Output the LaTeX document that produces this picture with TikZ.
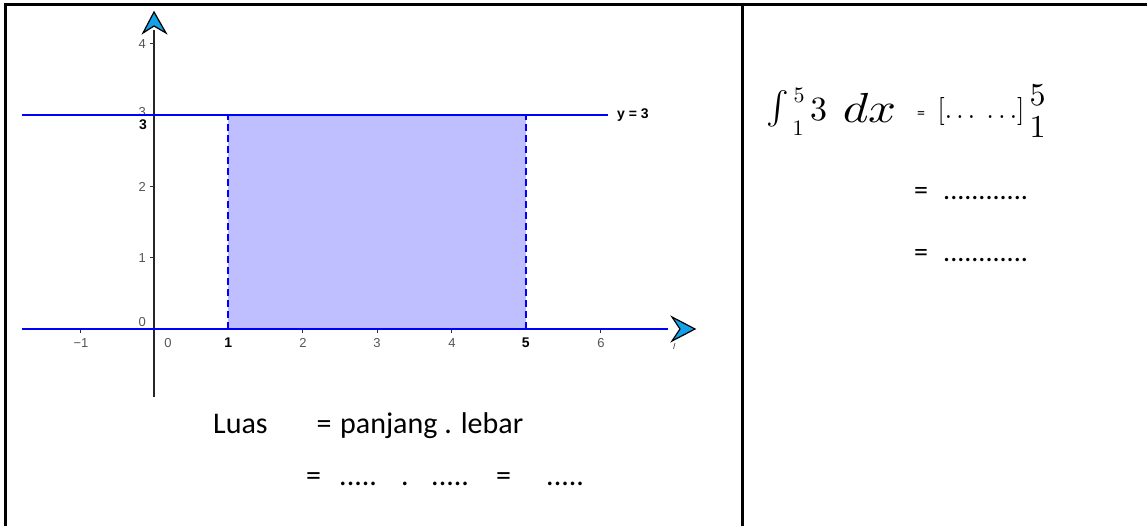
\documentclass[tikz,border=0pt]{standalone}
\usepackage{graphicx}
\usepackage[no-math]{fontspec}
\setmainfont{Carlito}
\newfontfamily\ggb{Liberation Sans}
\definecolor{ggblue}{RGB}{0,0,255}
\definecolor{fillv}{RGB}{191,191,255}
\definecolor{arrowc}{RGB}{20,160,230}
\definecolor{tickgray}{RGB}{85,85,85}
\begin{document}
\begin{tikzpicture}[x=1pt,y=-1pt,
  frame/.style={line width=3pt,black},
  blueline/.style={ggblue,line width=2pt},
  dashline/.style={ggblue,line width=2pt,dash pattern=on 7pt off 4pt},
  axisline/.style={black!85,line width=1.3pt},
  tickline/.style={black!80,line width=1pt},
  arrowhead/.style={fill=arrowc,draw=black,line width=1.2pt,line join=miter},
  ticklab/.style={font=\ggb\fontsize{13}{13}\selectfont,text=tickgray,inner sep=0pt},
  boldlab/.style={font=\ggb\bfseries\fontsize{14}{14}\selectfont,text=black,inner sep=0pt},
  bigtext/.style={font=\fontsize{30}{30}\selectfont,inner sep=0pt,anchor=base west},
  righttext/.style={font=\fontsize{28}{28}\selectfont,inner sep=0pt,anchor=base west},
  mathlab/.style={inner sep=0pt}]
\useasboundingbox (0,0) rectangle (1147,526);
% shaded region
\fill[fillv] (228.3,115.5) rectangle (525.7,329);
% y axis
\coordinate (ybot) at (154,397);
\coordinate (ytop) at (154,30);
\draw[axisline] (ybot) -- (ytop);
\foreach \yy in {44,187,258} \draw[tickline] (150,\yy) -- (154,\yy);
\foreach \xx in {80,302.7,377,451.7,600} \draw[tickline] (\xx,329) -- (\xx,333);
% dashed verticals
\coordinate (a1) at (228.3,115.5); \coordinate (a0) at (228.3,329);
\coordinate (b1) at (525.7,115.5); \coordinate (b0) at (525.7,329);
\draw[dashline] (a0) -- (a1);
\draw[dashline] (b0) -- (b1);
% labels behind line
\node[ticklab,anchor=east] (ly3g) at (146,112) {3};
% horizontal lines
\coordinate (xl) at (22,329); \coordinate (xr) at (668,329);
\draw[blueline] (xl) -- (xr);
\coordinate (hl) at (22,115.5); \coordinate (hr) at (607.7,115.5);
\draw[blueline] (hl) -- (hr);
\node[boldlab,anchor=west] (ylab) at (617,115.5) {y = 3};
% arrowheads
\draw[arrowhead] (154,12) -- (166,33) -- (154,26) -- (143,33) -- cycle;
\draw[arrowhead] (695,329) -- (672,341) -- (680,329) -- (672,317) -- cycle;
\draw[tickgray,line width=0.8pt] (673.5,349) -- (675,343);
% x tick labels
\node[ticklab] (xm1) at (81,343) {\textminus 1};
\node[ticklab] (x0) at (168,343) {0};
\node[boldlab] (x1) at (228.3,343) {1};
\node[ticklab] (x2) at (303,343) {2};
\node[ticklab] (x3) at (377,343) {3};
\node[ticklab] (x4) at (452,343) {4};
\node[boldlab] (x5) at (525.7,343) {5};
\node[ticklab] (x6) at (601,343) {6};
% y tick labels
\node[ticklab,anchor=east] (y4) at (146,44) {4};
\node[ticklab,anchor=east] (y2) at (146,187) {2};
\node[ticklab,anchor=east] (y1) at (146,258) {1};
\node[ticklab,anchor=east] (y0) at (146,322) {0};
\node[boldlab,anchor=east] (y3) at (147,125) {3};
% bottom text
\node[bigtext] (luas) at (213,433) {Luas};
\node[bigtext] (eq1) at (316.5,433) {=};
\node[bigtext] (pl) at (340,433) {panjang . lebar};
\node[bigtext] (eq2) at (306,485) {=};
\node[bigtext] (d1) at (339,485) {.....};
\node[bigtext] (d2) at (401,485) {.};
\node[bigtext] (d3) at (431,485) {.....};
\node[bigtext] (eq3) at (496,485) {=};
\node[bigtext] (d4) at (546,485) {.....};
% right panel math
\node[mathlab] (intg) at (778,109) {\scalebox{3.4}[3.3]{$\int$}};
\node[mathlab] (sup5) at (799,95) {\scalebox{2.2}{$5$}};
\node[mathlab] (sub1) at (798,128) {\scalebox{2.2}{$1$}};
\node[mathlab] (three) at (818.5,110) {\scalebox{3.4}{$3$}};
\node[mathlab] (dx) at (869.5,108) {\scalebox{4.9}[4.2]{$dx$}};
\node[mathlab,font=\fontsize{16}{16}\selectfont] (eqa) at (921,115) {=};
\node[mathlab] (brk) at (981,112) {\scalebox{2.6}[2.8]{$[\dots\;\dots]$}};
\node[mathlab] (up5) at (1037.5,95) {\scalebox{3.2}{$5$}};
\node[mathlab] (lo1) at (1037.5,127) {\scalebox{3.2}{$1$}};
\node[righttext] (eqb) at (914,200) {=};
\node[righttext] (dotb) at (943,200) {............};
\node[righttext] (eqc) at (914,262) {=};
\node[righttext] (dotc) at (943,262) {............};
% table frame
\coordinate (tl) at (5,5); \coordinate (tr) at (1147,5);
\coordinate (bl) at (5,526); \coordinate (mt) at (742.5,5); \coordinate (mb) at (742.5,526);
\draw[frame,line cap=rect] (bl) -- (tl) -- (tr);
\draw[frame] (mt) -- (mb);
\end{tikzpicture}
\end{document}
